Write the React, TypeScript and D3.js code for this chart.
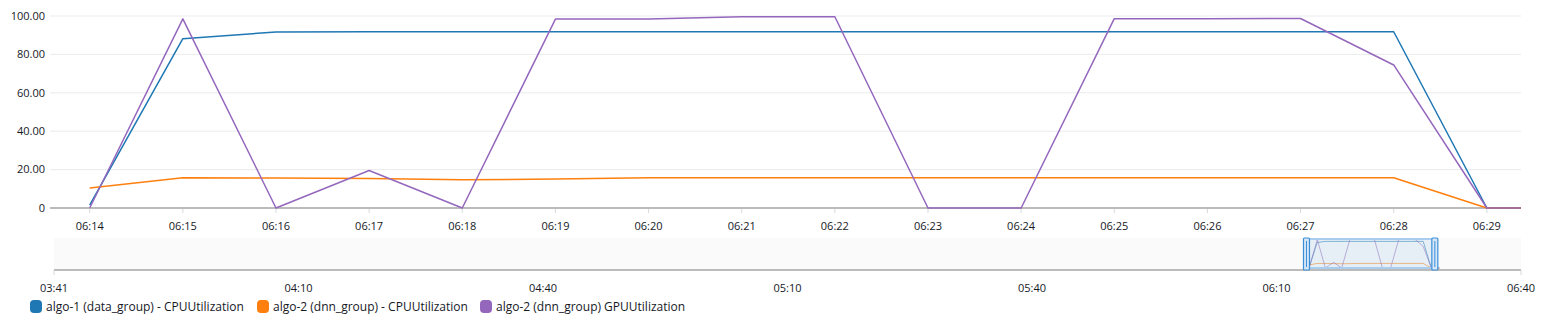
import React from "react";
import * as d3 from "d3";

const times = ["06:14","06:15","06:16","06:17","06:18","06:19","06:20","06:21","06:22","06:23","06:24","06:25","06:26","06:27","06:28","06:29","06:30"];
const algo1Cpu = [1.5, 88.2, 91.7, 91.8, 91.8, 91.8, 91.8, 91.8, 91.8, 91.8, 91.8, 91.8, 91.8, 91.8, 91.8, 0, 0];
const algo2Cpu = [10.4, 15.8, 15.6, 15.3, 14.7, 15.1, 15.8, 15.8, 15.8, 15.8, 15.8, 15.8, 15.8, 15.8, 15.8, 0, 0];
const algo2Gpu = [0, 98.5, 0, 19.5, 0, 98.4, 98.4, 99.6, 99.6, 0, 0, 98.6, 98.6, 98.7, 74.5, 0, 0];

const seriesNames = [
  "algo-1 (data_group) - CPUUtilization",
  "algo-2 (dnn_group) - CPUUtilization",
  "algo-2 (dnn_group) GPUUtilization",
];
const seriesColors = ["#1f77b4", "#ff7f0e", "#9467bd"];
const yTicks = [0, 20, 40, 60, 80, 100];
const xTickLabels = ["06:14","06:15","06:16","06:17","06:18","06:19","06:20","06:21","06:22","06:23","06:24","06:25","06:26","06:27","06:28","06:29"];
const navTickLabels = ["03:41","04:10","04:40","05:10","05:40","06:10","06:40"];
const navTickTimes = ["03:40","04:10","04:40","05:10","05:40","06:10","06:40"];
const mainDomain = ["06:13:37", "06:29:22"];
const navDomain = ["03:40:00", "06:40:00"];

const parse = (s: string) => {
  const p = s.split(":").map(Number);
  return new Date(2020, 0, 1, p[0], p[1], p[2] || 0);
};

export default function App() {
  const W = 1546, H = 326;
  const left = 54, right = 1521, top = 16, bottom = 208;
  const x = d3.scaleTime().domain(mainDomain.map(parse)).range([left, right]);
  const y = d3.scaleLinear().domain([0, 100]).range([bottom, top]);
  const nx = d3.scaleTime().domain(navDomain.map(parse)).range([left, right]);
  const ny = d3.scaleLinear().domain([0, 100]).range([268, 239]);
  const allSeries = [algo1Cpu, algo2Cpu, algo2Gpu];
  const dates = times.map(parse);
  const line = d3.line<number>().x((_, i) => x(dates[i])).y((d) => y(d));
  const nline = d3.line<number>().x((_, i) => nx(dates[i])).y((d) => ny(d));
  const font = "'Open Sans', 'Noto Sans', sans-serif";
  const bx0 = nx(parse(mainDomain[0]));
  const bx1 = nx(parse(mainDomain[1]));
  const legendX = [30, 257, 480];

  return (
    <svg width={W} height={H} style={{ position: "absolute", left: 0, top: 0, background: "#fff" }} fontFamily={font}>
      <defs>
        <clipPath id="plotclip">
          <rect x={left} y={0} width={right - left} height={bottom + 2} />
        </clipPath>
      </defs>
      {yTicks.filter((t) => t > 0).map((t) => (
        <line key={t} x1={50} x2={right} y1={y(t)} y2={y(t)} stroke="#e9ebed" strokeWidth={1} />
      ))}
      {yTicks.map((t) => (
        <text key={"yl" + t} x={45} y={y(t)} dy="0.35em" textAnchor="end" fontSize={11} fill="#16191f">
          {t === 0 ? "0" : t.toFixed(2)}
        </text>
      ))}
      {xTickLabels.map((t) => (
        <g key={t}>
          <line x1={x(parse(t))} x2={x(parse(t))} y1={bottom} y2={bottom + 5} stroke="#d5dbdb" />
          <text x={x(parse(t))} y={230} textAnchor="middle" fontSize={11} fill="#16191f">{t}</text>
        </g>
      ))}
      <line x1={50} x2={right} y1={bottom} y2={bottom} stroke="#bbbbbb" strokeWidth={2} />
      <g clipPath="url(#plotclip)">
        {allSeries.map((s, i) => (
          <path key={i} d={line(s) || ""} fill="none" stroke={seriesColors[i]} strokeWidth={1.5} strokeLinejoin="round" />
        ))}
      </g>

      {/* navigator */}
      <rect x={left} y={238} width={right - left} height={32} fill="#fafafa" />
      {allSeries.map((s, i) => (
        <path key={"n" + i} d={nline(s) || ""} fill="none" stroke={seriesColors[i]} strokeOpacity={0.5} strokeWidth={1} />
      ))}
      <rect x={bx0} y={238} width={bx1 - bx0} height={32} fill="rgba(0,115,187,0.08)" />
      <line x1={bx0} x2={bx1} y1={239} y2={239} stroke="#a9cdee" strokeWidth={2} />
      <line x1={bx0} x2={bx1} y1={268} y2={268} stroke="#a9cdee" strokeWidth={2} />
      <line x1={left} x2={right} y1={270} y2={270} stroke="#bbbbbb" strokeWidth={2} />
      <line x1={left} x2={left} y1={270} y2={275} stroke="#d5dbdb" />
      <line x1={right} x2={right} y1={270} y2={275} stroke="#d5dbdb" />
      {[bx0, bx1].map((bx, i) => (
        <g key={"h" + i}>
          <rect x={bx - 2.5} y={238} width={6} height={32} fill="#d4e6f7" stroke="#3b8fd9" strokeWidth={1.2} rx={1} />
          <line x1={bx + 0.5} x2={bx + 0.5} y1={241} y2={267} stroke="#3b8fd9" strokeWidth={1} />
        </g>
      ))}
      {navTickLabels.map((t, i) => (
        <text key={t} x={nx(parse(navTickTimes[i]))} y={292} textAnchor="middle" fontSize={11} fill="#16191f">{t}</text>
      ))}

      {/* legend */}
      {seriesNames.map((n, i) => (
        <g key={n}>
          <rect x={legendX[i]} y={300} width={12} height={13} rx={4} fill={seriesColors[i]} />
          <text x={legendX[i] + 16} y={306.5} dy="0.35em" fontSize={12} fill="#16191f">{n}</text>
        </g>
      ))}
    </svg>
  );
}
